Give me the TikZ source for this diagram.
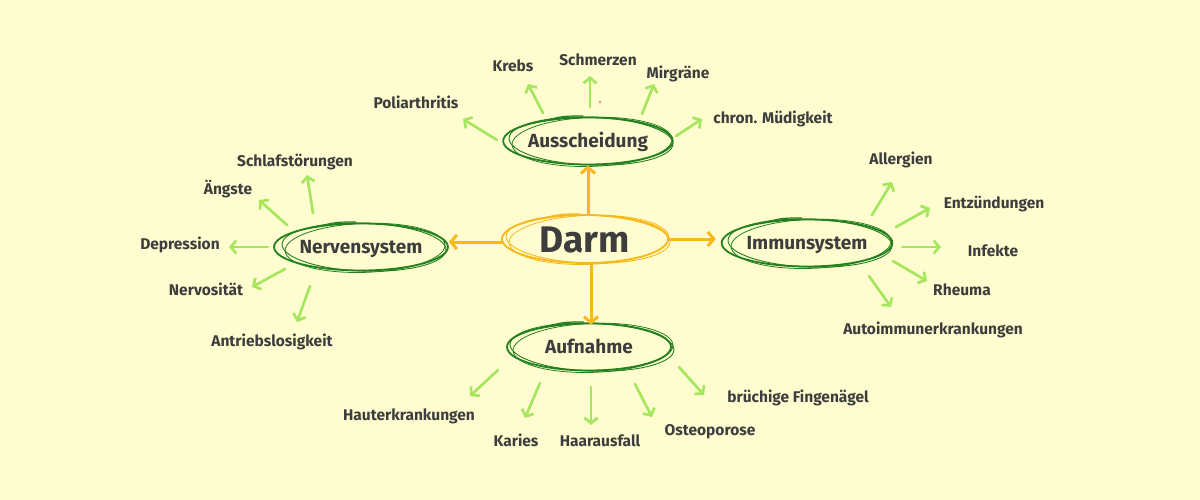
\documentclass[tikz,border=0pt]{standalone}
\usepackage{fontspec}
\setmainfont{Fira Sans}
\usetikzlibrary{arrows.meta}
\usetikzlibrary{shapes.geometric}

\definecolor{hintergrund}{HTML}{FFFDCF}
\definecolor{dunkelgruen}{HTML}{23801E}
\definecolor{hellgruen}{HTML}{A6E65E}
\definecolor{gelb}{HTML}{F7B81C}
\definecolor{schrift}{HTML}{3D3D3D}

\tikzset{
    haupt/.style={ellipse,draw=gelb,line width=1.8pt,minimum width=166pt,minimum height=48pt,inner sep=0pt,text=schrift,font=\fontsize{37}{40}\selectfont\bfseries,text height=26pt,text depth=0pt},
    thema/.style={ellipse,draw=dunkelgruen,line width=1.8pt,minimum width=164pt,minimum height=47pt,inner sep=0pt,text=schrift,font=\fontsize{19}{23}\selectfont\bfseries,text height=13.5pt,text depth=0pt},
    punkt/.style={text=schrift,font=\fontsize{15.5}{18}\selectfont\bfseries,inner sep=0pt,text height=10.5pt,text depth=0pt},
    pfeil/.style={draw=hellgruen,line width=2.7pt,line cap=round,-{Straight Barb[length=5.5pt,width=13pt]}},
    hauptpfeil/.style={draw=gelb,line width=3pt,line cap=round,-{Straight Barb[length=6pt,width=14pt]}},
}

% zusaetzliche Striche um einen Knoten, damit er wie gekritzelt aussieht
\newcommand\kringel[2]{%
    \draw[#2,line width=0.9pt,rotate around={-2:(#1.center)}]([shift={(3,0)}]#1.center)ellipse(82 and 24);
    \draw[#2,line width=0.8pt,rotate around={2:(#1.center)}]([shift={(4,1)}]#1.center)ellipse(80 and 24.5);
    \draw[#2,line width=1.2pt]([shift={(-45,-20)}]#1.center)..controls([shift={(-25,-25)}]#1.center)..([shift={(-5,-25)}]#1.center);
}

\begin{document}
\begin{tikzpicture}[x=1pt,y=-1pt]

    \fill[hintergrund](0,0)rectangle(1200,500);

    \node[haupt](darm)at(585,239){Darm};
    \node[thema](aus)at(588,141){Ausscheidung};
    \node[thema](nerv)at(361,247){Nervensystem};
    \node[thema](imm)at(807,243){Immunsystem};
    \node[thema](auf)at(589,347){Aufnahme};

    \kringel{darm}{gelb}
    \kringel{aus}{dunkelgruen}
    \kringel{nerv}{dunkelgruen}
    \kringel{imm}{dunkelgruen}
    \kringel{auf}{dunkelgruen}

    \draw[hauptpfeil]([xshift=3]darm.north)--([xshift=3]darm.north|-aus.south);
    \draw[hauptpfeil]([yshift=-3]darm.west)--([yshift=-3]darm.west-|nerv.east);
    \draw[hauptpfeil](darm.east)--([xshift=-5]darm.east-|imm.west);
    \draw[hauptpfeil]([xshift=6]darm.south)--([xshift=6,yshift=-2]darm.south|-auf.north);

    % Ausscheidung
    \node[punkt](poli)at(416,103){Poliarthritis};
    \node[punkt](krebs)at(513,66){Krebs};
    \node[punkt](schm)at(598,60){Schmerzen};
    \node[punkt](mig)at(678,73){Mirgräne};
    \node[punkt](muede)at(773,118){chron. Müdigkeit};
    \coordinate(poli-a)at(497,140);\coordinate(poli-b)at(463,119);\draw[pfeil](poli-a)--(poli-b);
    \coordinate(krebs-a)at(543,113);\coordinate(krebs-b)at(528,84);\draw[pfeil](krebs-a)--(krebs-b);
    \coordinate(schm-a)at(590,107);\coordinate(schm-b)at(590,76);\draw[pfeil](schm-a)--(schm-b);
    \coordinate(mig-a)at(642,114);\coordinate(mig-b)at(654,84);\draw[pfeil](mig-a)--(mig-b);
    \coordinate(muede-a)at(676,136);\coordinate(muede-b)at(702,119);\draw[pfeil](muede-a)--(muede-b);
    \fill[red](600,102)circle(0.8);

    % Nervensystem
    \node[punkt](schlaf)at(295,161){Schlafstörungen};
    \node[punkt](angst)at(228,189){Ängste};
    \node[punkt](depr)at(180,244){Depression};
    \node[punkt](nervos)at(206,290){Nervosität};
    \node[punkt](antrieb)at(272,341){Antriebslosigkeit};
    \coordinate(schlaf-a)at(313,213);\coordinate(schlaf-b)at(307,175);\draw[pfeil](schlaf-a)--(schlaf-b);
    \coordinate(angst-a)at(287,225);\coordinate(angst-b)at(259,200);\draw[pfeil](angst-a)--(angst-b);
    \coordinate(depr-a)at(268,247);\coordinate(depr-b)at(229,247);\draw[pfeil](depr-a)--(depr-b);
    \coordinate(nervos-a)at(285,269);\coordinate(nervos-b)at(252,287);\draw[pfeil](nervos-a)--(nervos-b);
    \coordinate(antrieb-a)at(310,286);\coordinate(antrieb-b)at(297,322);\draw[pfeil](antrieb-a)--(antrieb-b);

    % Immunsystem
    \node[punkt](allerg)at(901,159){Allergien};
    \node[punkt](entz)at(994,203){Entzündungen};
    \node[punkt](infekt)at(993,251){Infekte};
    \node[punkt](rheuma)at(962,290){Rheuma};
    \node[punkt](auto)at(933,329){Autoimmunerkrankungen};
    \coordinate(allerg-a)at(872,215);\coordinate(allerg-b)at(892,182);\draw[pfeil](allerg-a)--(allerg-b);
    \coordinate(entz-a)at(896,227);\coordinate(entz-b)at(930,208);\draw[pfeil](entz-a)--(entz-b);
    \coordinate(infekt-a)at(902,247);\coordinate(infekt-b)at(941,247);\draw[pfeil](infekt-a)--(infekt-b);
    \coordinate(rheuma-a)at(893,261);\coordinate(rheuma-b)at(927,281);\draw[pfeil](rheuma-a)--(rheuma-b);
    \coordinate(auto-a)at(869,276);\coordinate(auto-b)at(891,307);\draw[pfeil](auto-a)--(auto-b);

    % Aufnahme
    \node[punkt](haut)at(409,415){Hauterkrankungen};
    \node[punkt](karies)at(516,441){Karies};
    \node[punkt](haar)at(600,441){Haarausfall};
    \node[punkt](osteo)at(710,430){Osteoporose};
    \node[punkt](finger)at(798,397){brüchige Fingenägel};
    \coordinate(haut-a)at(498,370);\coordinate(haut-b)at(470,396);\draw[pfeil](haut-a)--(haut-b);
    \coordinate(karies-a)at(540,383);\coordinate(karies-b)at(525,418);\draw[pfeil](karies-a)--(karies-b);
    \coordinate(haar-a)at(591,387);\coordinate(haar-b)at(591,425);\draw[pfeil](haar-a)--(haar-b);
    \coordinate(osteo-a)at(635,384);\coordinate(osteo-b)at(652,417);\draw[pfeil](osteo-a)--(osteo-b);
    \coordinate(finger-a)at(679,367);\coordinate(finger-b)at(704,395);\draw[pfeil](finger-a)--(finger-b);

\end{tikzpicture}
\end{document}
